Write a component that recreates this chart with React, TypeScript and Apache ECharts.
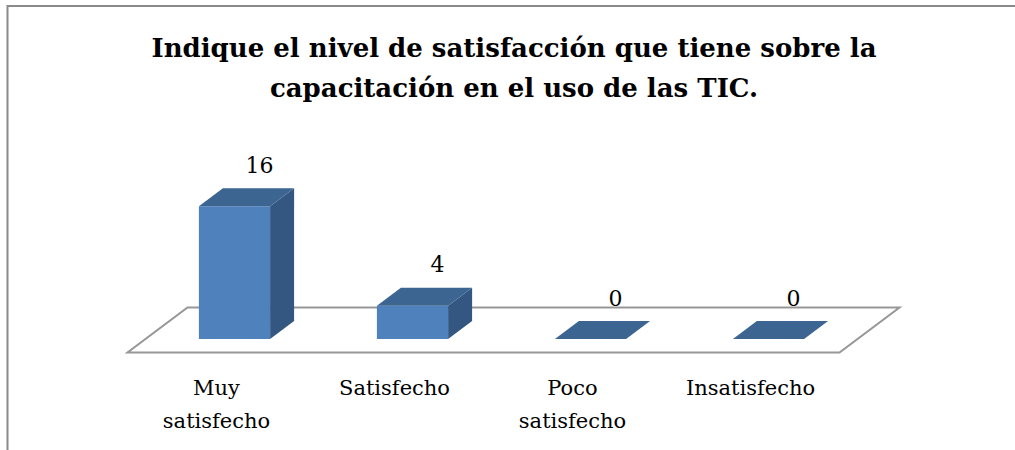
import React, { useEffect, useRef } from "react";
import * as echarts from "echarts";

const titleText = "Indique el nivel de satisfacción que tiene sobre la\ncapacitación en el uso de las TIC.";
const categories = ["Muy\nsatisfecho", "Satisfecho", "Poco\nsatisfecho", "Insatisfecho"];
const values = [16, 4, 0, 0];
const yMin = 0;
const yMax = 20;

const FRONT = "#4F81BD";
const TOP = "#3D6592";
const SIDE = "#345781";
const DX = 24;
const DY = -18;

export default function App() {
  const ref = useRef<HTMLDivElement>(null);
  useEffect(() => {
    if (!ref.current) return;
    const chart = echarts.init(ref.current, null, { renderer: "svg" });
    const n = categories.length;
    chart.setOption({
      animation: false,
      backgroundColor: "#ffffff",
      grid: { left: 145.5, top: 173, width: 712, height: 166 },
      xAxis: { type: "category", data: categories, show: false },
      yAxis: { type: "value", min: yMin, max: yMax, show: false },
      graphic: [
        {
          type: "rect",
          shape: { x: 7.5, y: 6, width: 1200, height: 600 },
          style: { fill: "none", stroke: "#8a8a8a", lineWidth: 2 },
          silent: true,
        },
        {
          type: "text",
          x: 514,
          y: 28,
          style: {
            text: titleText,
            align: "center",
            verticalAlign: "top",
            lineHeight: 40,
            font: 'bold 26px "DejaVu Serif"',
            fill: "#000000",
          },
        },
      ],
      series: [
        {
          type: "custom",
          name: "floor",
          z: 1,
          clip: false,
          data: [[0, 0]],
          renderItem: (params: any, api: any) => {
            const first = api.coord([0, 0]);
            const last = api.coord([n - 1, 0]);
            const half = api.size([1, 0])[0] / 2;
            const L = first[0] - half;
            const R = last[0] + half;
            const y = first[1];
            return {
              type: "polygon",
              shape: {
                points: [
                  [L - 18, y + 13.5],
                  [R - 18, y + 13.5],
                  [R + 42, y - 31.5],
                  [L + 42, y - 31.5],
                ],
              },
              style: { fill: "#ffffff", stroke: "#979797", lineWidth: 2 },
            };
          },
        },
        {
          type: "custom",
          name: "bars",
          z: 2,
          clip: false,
          data: values.map((v, i) => [i, v]),
          renderItem: (params: any, api: any) => {
            const idx = api.value(0);
            const v = api.value(1);
            const base = api.coord([idx, 0]);
            const top = api.coord([idx, v]);
            const bw = api.size([1, 0])[0] * 0.4;
            const cx = base[0];
            const xl = cx - bw / 2;
            const xr = cx + bw / 2;
            const yb = base[1];
            const yt = top[1];
            const children: any[] = [];
            if (yb - yt > 0.5) {
              children.push({
                type: "polygon",
                shape: { points: [[xl, yb], [xr, yb], [xr, yt], [xl, yt]] },
                style: { fill: FRONT },
              });
              children.push({
                type: "polygon",
                shape: { points: [[xr, yb], [xr + DX, yb + DY], [xr + DX, yt + DY], [xr, yt]] },
                style: { fill: SIDE },
              });
            }
            children.push({
              type: "polygon",
              shape: { points: [[xl, yt], [xr, yt], [xr + DX, yt + DY], [xl + DX, yt + DY]] },
              style: { fill: TOP },
            });
            children.push({
              type: "text",
              x: (xl + xr) / 2 + DX + 1,
              y: yt + DY - 23,
              style: {
                text: String(v),
                align: "center",
                verticalAlign: "middle",
                font: '22px "DejaVu Serif"',
                fill: "#000000",
              },
            });
            children.push({
              type: "text",
              x: cx - 18,
              y: yb + 32,
              style: {
                text: categories[idx],
                align: "center",
                verticalAlign: "top",
                lineHeight: 33,
                font: '21px "DejaVu Serif"',
                fill: "#000000",
              },
            });
            return { type: "group", children };
          },
        },
      ],
    });
    return () => chart.dispose();
  }, []);
  return (
    <div
      ref={ref}
      style={{ position: "fixed", left: 0, top: 0, width: 1015, height: 450, background: "#fff" }}
    />
  );
}
